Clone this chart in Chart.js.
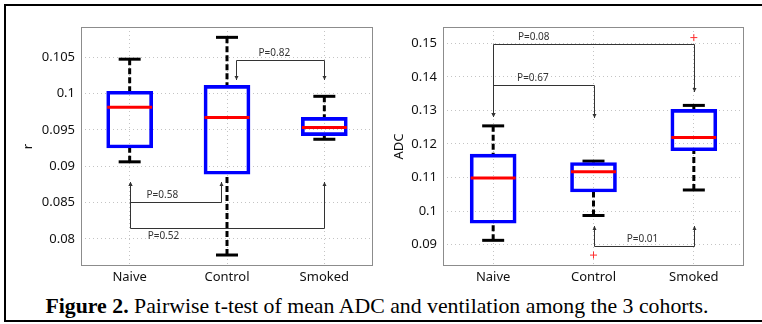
<!DOCTYPE html>
<html>
<head>
<meta charset="utf-8">
<script src="https://cdn.jsdelivr.net/npm/chart.js@4.4.1/dist/chart.umd.min.js"></script>
<style>
  html, body { margin: 0; padding: 0; background: #fff; }
  body { width: 762px; height: 324px; position: relative; overflow: hidden; }
  #frame {
    position: absolute; left: 4px; top: 4px; width: 800px; height: 318px;
    box-sizing: border-box; border: 2px solid #000; border-right: none;
  }
  canvas { position: absolute; top: 0; }
  #left { left: 0; }
  #right { left: 381px; }
  #caption {
    position: absolute; left: -4px; top: 294px; width: 762px; text-align: center;
    font-family: 'Liberation Serif', 'Times New Roman', serif; font-size: 21.8px; line-height: 24px;
    color: #000; white-space: nowrap;
  }
</style>
</head>
<body>
<div id="frame"></div>
<canvas id="left" width="381" height="290"></canvas>
<canvas id="right" width="381" height="290"></canvas>
<div id="caption"><b>Figure 2.</b> Pairwise t-test of mean ADC and ventilation among the 3 cohorts.</div>
<script>
// cohorts
const groups = ['Naive', 'Control', 'Smoked'];

// left panel: r
const rLow    = [0.0906, 0.0778, 0.0937];
const rQ1     = [0.0925, 0.0889, 0.0942];
const rMedian = [0.0981, 0.0967, 0.0953];
const rQ3     = [0.1003, 0.1011, 0.0967];
const rHigh   = [0.1047, 0.1077, 0.0996];
const rTicks  = [0.08, 0.085, 0.09, 0.095, 0.1, 0.105];

// left panel: pairwise tests
const rPairFrom = ['Control', 'Naive', 'Naive'];
const rPairTo   = ['Smoked', 'Control', 'Smoked'];
const rPText    = ['P=0.82', 'P=0.58', 'P=0.52'];
const rPLevel   = [0.10463, 0.08503, 0.08146];
const rPTipFrom = [0.10179, 0.08777, 0.08777];
const rPTipTo   = [0.10179, 0.08777, 0.08777];

// right panel: ADC
const adcLow    = [0.0913, 0.0987, 0.1063];
const adcQ1     = [0.0964, 0.1057, 0.1180];
const adcMedian = [0.1099, 0.1117, 0.1219];
const adcQ3     = [0.1170, 0.1145, 0.1303];
const adcHigh   = [0.1254, 0.1149, 0.1315];
const adcOutlierGroup = ['Control', 'Smoked'];
const adcOutlierValue = [0.0869, 0.1517];
const adcTicks  = [0.09, 0.1, 0.11, 0.12, 0.13, 0.14, 0.15];

// right panel: pairwise tests
const adcPairFrom = ['Naive', 'Naive', 'Control'];
const adcPairTo   = ['Smoked', 'Control', 'Smoked'];
const adcPText    = ['P=0.08', 'P=0.67', 'P=0.01'];
const adcPLevel   = [0.1497, 0.1377, 0.0897];
const adcPTipFrom = [0.1281, 0.1281, 0.0956];
const adcPTipTo   = [0.1354, 0.1278, 0.0956];

// label placement along each bracket (fraction), side (-1 above, 1 below), end nudges in px
const rPLayout = [
  {at: 0.43, side: -1, nudgeFrom: 9, nudgeTo: 0},
  {at: 0.35, side: -1, nudgeFrom: 0, nudgeTo: -6},
  {at: 0.17, side: 1, nudgeFrom: 0, nudgeTo: 0}
];
const adcPLayout = [
  {at: 0.20, side: -1, nudgeFrom: 0, nudgeTo: 0},
  {at: 0.39, side: -1, nudgeFrom: 0, nudgeTo: 0},
  {at: 0.48, side: -1, nudgeFrom: 0, nudgeTo: 0}
];

const tickFont = {family: 'Noto Sans', size: 13};

const decor = {
  id: 'decor',
  afterDatasetsDraw(chart, args, opts) {
    const {ctx, chartArea: a, scales: {x, y}} = chart;
    ctx.save();
    // axes box
    ctx.strokeStyle = '#8c8c8c';
    ctx.lineWidth = 1;
    ctx.strokeRect(Math.round(a.left) + 0.5, Math.round(a.top) + 0.5,
      Math.round(a.right) - Math.round(a.left) - 1, Math.round(a.bottom) - Math.round(a.top) - 1);

    // significance brackets
    ctx.strokeStyle = '#333';
    ctx.fillStyle = '#333';
    ctx.font = '10px "Noto Sans"';
    ctx.textAlign = 'center';
    ctx.textBaseline = 'middle';
    opts.from.forEach((g, i) => {
      const lay = opts.layout[i];
      const xa = Math.round(x.getPixelForValue(groups.indexOf(g)) + lay.nudgeFrom) + 0.5;
      const xb = Math.round(x.getPixelForValue(groups.indexOf(opts.to[i])) + lay.nudgeTo) + 0.5;
      const yl = Math.round(y.getPixelForValue(opts.level[i])) + 0.5;
      const ya = Math.round(y.getPixelForValue(opts.tipFrom[i]));
      const yb = Math.round(y.getPixelForValue(opts.tipTo[i]));
      ctx.beginPath();
      ctx.moveTo(xa, ya);
      ctx.lineTo(xa, yl);
      ctx.lineTo(xb, yl);
      ctx.lineTo(xb, yb);
      ctx.stroke();
      [[xa, ya], [xb, yb]].forEach(([px, py]) => {
        const d = py < yl ? 1 : -1;
        ctx.beginPath();
        ctx.moveTo(px, py);
        ctx.lineTo(px - 2, py + d * 4);
        ctx.lineTo(px + 2, py + d * 4);
        ctx.closePath();
        ctx.fill();
      });
      ctx.fillText(opts.text[i], xa + (xb - xa) * lay.at, yl + lay.side * 7.5);
    });
    ctx.restore();
  }
};

function boxChart(id, o) {
  const whiskers = [];
  const caps = [];
  const medians = [];
  groups.forEach((g, i) => {
    whiskers.push({x: g, y: o.high[i]}, {x: g, y: o.q3[i]}, {x: g, y: null},
                  {x: g, y: o.low[i]}, {x: g, y: o.q1[i]}, {x: g, y: null});
    caps.push({x: g, y: o.high[i]}, {x: g, y: o.low[i]});
    medians.push({x: g, y: o.median[i]});
  });
  const outliers = (o.outGroup || []).map((g, i) => ({x: g, y: o.outValue[i]}));

  return new Chart(document.getElementById(id), {
    type: 'bar',
    data: {
      labels: groups,
      datasets: [
        {
          type: 'line', data: medians, showLine: false,
          pointStyle: 'line', pointRadius: 22.5, pointBorderWidth: 3,
          pointBorderColor: '#ff0000', pointBackgroundColor: '#ff0000'
        },
        {
          type: 'bar', data: groups.map((g, i) => [o.q1[i], o.q3[i]]),
          backgroundColor: 'rgba(0,0,0,0)', borderColor: '#0000ff',
          borderWidth: 3, borderSkipped: false, barThickness: 46
        },
        {
          type: 'line', data: caps, showLine: false,
          pointStyle: 'line', pointRadius: 11, pointBorderWidth: 3,
          pointBorderColor: '#000', pointBackgroundColor: '#000'
        },
        {
          type: 'line', data: whiskers, spanGaps: false, fill: false,
          borderColor: '#000', borderWidth: 3, borderDash: [6, 3],
          borderCapStyle: 'butt', pointRadius: 0
        },
        {
          type: 'line', data: outliers, showLine: false,
          pointStyle: 'cross', pointRadius: 3.5, pointBorderWidth: 1,
          pointBorderColor: '#ff3030'
        }
      ]
    },
    options: {
      responsive: false,
      animation: false,
      events: [],
      devicePixelRatio: 1,
      layout: {autoPadding: false, padding: {top: 27, right: o.padRight, left: 0, bottom: 0}},
      plugins: {
        legend: {display: false},
        tooltip: {enabled: false},
        decor: o.brackets
      },
      scales: {
        x: {
          type: 'category',
          offset: true,
          grid: {offset: false, color: '#c4c4c4', drawTicks: false},
          border: {display: false, dash: [1, 3]},
          ticks: {font: tickFont, color: '#111', padding: 3, maxRotation: 0},
          afterFit: s => {
            s.height = 24;
            s.paddingLeft = 0; s.paddingRight = 0;
            s.paddingTop = 0; s.paddingBottom = 0;
          }
        },
        y: {
          type: 'linear',
          min: o.min, max: o.max,
          grid: {color: '#c4c4c4', drawTicks: false},
          border: {display: false, dash: [1, 3]},
          ticks: {font: tickFont, color: '#111', padding: 6,
                  callback: v => String(parseFloat(v.toFixed(4)))},
          afterBuildTicks: s => { s.ticks = o.ticks.map(v => ({value: v})); },
          afterFit: s => {
            s.width = o.axisWidth;
            s.paddingLeft = 0; s.paddingRight = 0;
            s.paddingTop = 0; s.paddingBottom = 0;
          },
          title: {display: true, text: o.title, font: tickFont, color: '#111',
                  padding: {top: o.titlePad, bottom: 0}}
        }
      }
    },
    plugins: [decor]
  });
}

boxChart('left', {
  low: rLow, q1: rQ1, median: rMedian, q3: rQ3, high: rHigh,
  ticks: rTicks, min: 0.076291, max: 0.109121,
  title: 'r', titlePad: 20, axisWidth: 81, padRight: 8,
  brackets: {from: rPairFrom, to: rPairTo, text: rPText, level: rPLevel,
             tipFrom: rPTipFrom, tipTo: rPTipTo, layout: rPLayout}
});

boxChart('right', {
  low: adcLow, q1: adcQ1, median: adcMedian, q3: adcQ3, high: adcHigh,
  outGroup: adcOutlierGroup, outValue: adcOutlierValue,
  ticks: adcTicks, min: 0.083654, max: 0.154856,
  title: 'ADC', titlePad: 10, axisWidth: 62, padRight: 18,
  brackets: {from: adcPairFrom, to: adcPairTo, text: adcPText, level: adcPLevel,
             tipFrom: adcPTipFrom, tipTo: adcPTipTo, layout: adcPLayout}
});
</script>
</body>
</html>
